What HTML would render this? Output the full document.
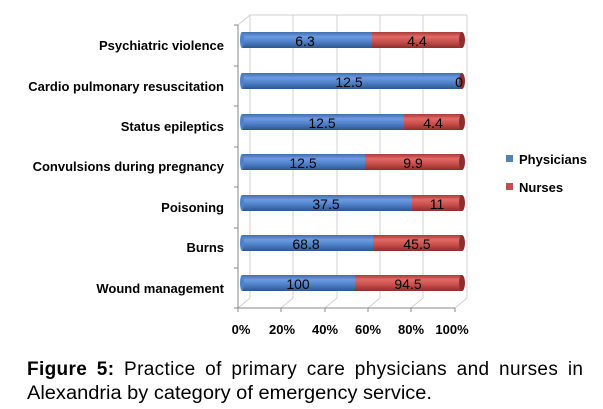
<!DOCTYPE html>
<html><head><meta charset="utf-8"><style>
html,body{margin:0;padding:0;background:#fff;}
svg{display:block;font-family:"Liberation Sans",sans-serif;}
</style></head><body>
<svg width="603" height="409" viewBox="0 0 603 409" xmlns="http://www.w3.org/2000/svg">
<defs>
<linearGradient id="gb" x1="0" y1="0" x2="0" y2="1">
<stop offset="0" stop-color="#3f6fae"/><stop offset="0.3" stop-color="#6c9be0"/><stop offset="0.6" stop-color="#4f81c9"/><stop offset="1" stop-color="#2d568f"/></linearGradient>
<linearGradient id="gr" x1="0" y1="0" x2="0" y2="1">
<stop offset="0" stop-color="#a83c3a"/><stop offset="0.3" stop-color="#e06a66"/><stop offset="0.6" stop-color="#c9504c"/><stop offset="1" stop-color="#8e2e2c"/></linearGradient>
</defs>
<g stroke="#d0d0d0" stroke-width="1" fill="none">
<polyline points="238,25 250,15 467,15"/>
<line x1="250" y1="15" x2="250" y2="298"/><line x1="293" y1="15" x2="293" y2="298"/>
<line x1="337" y1="15" x2="337" y2="298"/><line x1="380" y1="15" x2="380" y2="298"/>
<line x1="423" y1="15" x2="423" y2="298"/><line x1="467" y1="15" x2="467" y2="298"/>
<line x1="238" y1="308" x2="250" y2="298"/><line x1="281" y1="308" x2="293" y2="298"/>
<line x1="325" y1="308" x2="337" y2="298"/><line x1="368" y1="308" x2="380" y2="298"/>
<line x1="411" y1="308" x2="423" y2="298"/><line x1="455" y1="308" x2="467" y2="298"/>
</g>
<g stroke="#888" stroke-width="1">
<line x1="238" y1="25" x2="238" y2="308"/><line x1="238" y1="308" x2="455" y2="308"/>
<line x1="234" y1="25" x2="238" y2="25"/><line x1="234" y1="66" x2="238" y2="66"/><line x1="234" y1="106" x2="238" y2="106"/><line x1="234" y1="147" x2="238" y2="147"/><line x1="234" y1="187" x2="238" y2="187"/><line x1="234" y1="228" x2="238" y2="228"/><line x1="234" y1="268" x2="238" y2="268"/><line x1="234" y1="308" x2="238" y2="308"/>
<line x1="238" y1="308" x2="238" y2="312"/><line x1="281" y1="308" x2="281" y2="312"/><line x1="325" y1="308" x2="325" y2="312"/><line x1="368" y1="308" x2="368" y2="312"/><line x1="411" y1="308" x2="411" y2="312"/><line x1="455" y1="308" x2="455" y2="312"/>
</g>
<g font-size="14" text-anchor="middle" fill="#000">
<rect x="242" y="32" width="130" height="16" fill="url(#gb)"/><rect x="372" y="32" width="90" height="16" fill="url(#gr)"/><ellipse cx="462" cy="40" rx="3" ry="8" fill="#8e2e2c"/><ellipse cx="242" cy="40" rx="2" ry="8" fill="#4f81c9"/>
<text x="305" y="46">6.3</text><text x="417" y="46">4.4</text>
<rect x="242" y="73" width="219" height="16" fill="url(#gb)"/><rect x="461" y="73" width="1" height="16" fill="url(#gr)"/><ellipse cx="462" cy="81" rx="3" ry="8" fill="#8e2e2c"/><ellipse cx="242" cy="81" rx="2" ry="8" fill="#4f81c9"/>
<text x="349" y="87">12.5</text><text x="459" y="87">0</text>
<rect x="242" y="114" width="162" height="16" fill="url(#gb)"/><rect x="404" y="114" width="58" height="16" fill="url(#gr)"/><ellipse cx="462" cy="122" rx="3" ry="8" fill="#8e2e2c"/><ellipse cx="242" cy="122" rx="2" ry="8" fill="#4f81c9"/>
<text x="322" y="128">12.5</text><text x="433" y="128">4.4</text>
<rect x="242" y="154" width="123" height="16" fill="url(#gb)"/><rect x="365" y="154" width="97" height="16" fill="url(#gr)"/><ellipse cx="462" cy="162" rx="3" ry="8" fill="#8e2e2c"/><ellipse cx="242" cy="162" rx="2" ry="8" fill="#4f81c9"/>
<text x="303" y="168">12.5</text><text x="413" y="168">9.9</text>
<rect x="242" y="195" width="170" height="16" fill="url(#gb)"/><rect x="412" y="195" width="50" height="16" fill="url(#gr)"/><ellipse cx="462" cy="203" rx="3" ry="8" fill="#8e2e2c"/><ellipse cx="242" cy="203" rx="2" ry="8" fill="#4f81c9"/>
<text x="326" y="209">37.5</text><text x="437" y="209">11</text>
<rect x="242" y="235" width="131" height="16" fill="url(#gb)"/><rect x="373" y="235" width="89" height="16" fill="url(#gr)"/><ellipse cx="462" cy="243" rx="3" ry="8" fill="#8e2e2c"/><ellipse cx="242" cy="243" rx="2" ry="8" fill="#4f81c9"/>
<text x="306" y="249">68.8</text><text x="417" y="249">45.5</text>
<rect x="242" y="275" width="113" height="16" fill="url(#gb)"/><rect x="355" y="275" width="107" height="16" fill="url(#gr)"/><ellipse cx="462" cy="283" rx="3" ry="8" fill="#8e2e2c"/><ellipse cx="242" cy="283" rx="2" ry="8" fill="#4f81c9"/>
<text x="298" y="289">100</text><text x="408" y="289">94.5</text>
</g>
<g font-size="13" font-weight="bold" text-anchor="end" fill="#000">
<text x="224" y="50">Psychiatric violence</text>
<text x="224" y="91">Cardio pulmonary resuscitation</text>
<text x="224" y="131">Status epileptics</text>
<text x="224" y="171">Convulsions during pregnancy</text>
<text x="224" y="212">Poisoning</text>
<text x="224" y="252">Burns</text>
<text x="224" y="293">Wound management</text>
</g>
<g font-size="13" font-weight="bold" text-anchor="middle" fill="#000">
<text x="241" y="334">0%</text><text x="282" y="334">20%</text><text x="325" y="334">40%</text><text x="368" y="334">60%</text><text x="411" y="334">80%</text><text x="452" y="334">100%</text>
</g>
<rect x="506" y="155" width="7" height="7" fill="#4f81bd"/>
<rect x="506" y="183" width="7" height="7" fill="#c0504d"/>
<g font-size="13" font-weight="bold" fill="#000">
<text x="519" y="164">Physicians</text><text x="519" y="192">Nurses</text>
</g>
<text x="27" y="375" font-size="19" textLength="556" lengthAdjust="spacing" word-spacing="4"><tspan font-weight="bold">Figure 5:</tspan> Practice of primary care physicians and nurses in</text>
<text x="27" y="399" font-size="19" textLength="405" lengthAdjust="spacingAndGlyphs">Alexandria by category of emergency service.</text>
</svg>
</body></html>
